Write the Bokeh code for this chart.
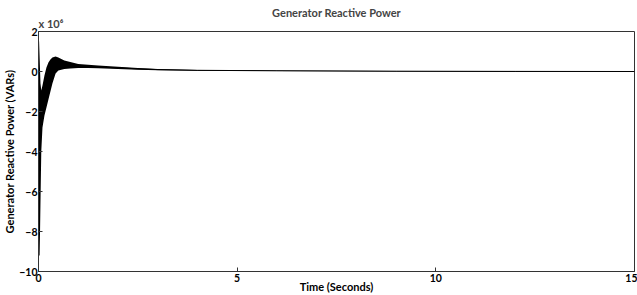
from bokeh.plotting import figure
from bokeh.models import Range1d, FixedTicker, Title
from bokeh.embed import file_html
from bokeh.resources import INLINE

# Envelope of the oscillating reactive power trace (x 10^6 VARs)
time_s = [0.0, 0.015, 0.03, 0.05, 0.07, 0.1, 0.15, 0.2, 0.25, 0.3, 0.35, 0.43, 0.5,
          0.65, 0.8, 1.0, 1.25, 1.5, 2.0, 2.5, 3.0, 4.0, 6.0, 9.0, 12.0, 15.0]
upper = [1.6, 1.5, 0.6, -0.6, -0.95, -0.7, -0.2, 0.2, 0.45, 0.6, 0.7, 0.75, 0.7,
         0.55, 0.47, 0.38, 0.34, 0.3, 0.24, 0.18, 0.13, 0.08, 0.05, 0.03, 0.02, 0.01]
lower = [-0.5, -9.2, -9.2, -6.5, -4.0, -2.8, -2.2, -1.8, -1.4, -1.0, -0.6, -0.1, 0.05,
         0.12, 0.15, 0.17, 0.17, 0.16, 0.12, 0.09, 0.06, 0.04, 0.02, 0.0, -0.01, -0.01]
x_ticks = [0, 5, 10, 15]
y_ticks = [2, 0, -2, -4, -6, -8, -10]

FONT = "Lato"

p = figure(width=637, height=295, output_backend="svg", toolbar_location=None,
           x_range=Range1d(0, 15), y_range=Range1d(-10, 2),
           min_border_left=30, min_border_right=3, min_border_top=31, min_border_bottom=0)

p.title.text = "Generator Reactive Power"
p.title.align = "center"
p.title.text_font = FONT
p.title.text_font_size = "11px"
p.title.text_font_style = "bold"
p.title.offset = 0
p.title.standoff = -10

# scale factor, nearest the frame
scale_title = Title(text="x 10\u2076", align="left", text_font=FONT,
                    text_font_size="11px", text_font_style="bold", standoff=3)
p.add_layout(scale_title, "above")

p.varea(x=time_s, y1=lower, y2=upper, fill_color="black", fill_alpha=1.0)
mid = [(a + b) / 2 for a, b in zip(upper, lower)]
p.line(x=time_s[10:], y=mid[10:], line_color="black", line_width=1)

p.xgrid.visible = False
p.ygrid.visible = False
p.outline_line_color = "#333333"
p.outline_line_width = 1
p.background_fill_color = "white"

for ax in (p.xaxis[0], p.yaxis[0]):
    ax.major_tick_in = 4
    ax.major_tick_out = 0
    ax.minor_tick_line_color = None
    ax.axis_line_color = "#333333"
    ax.major_tick_line_color = "#333333"
    ax.major_label_text_font = FONT
    ax.major_label_text_font_style = "bold"
    ax.major_label_text_font_size = "10.5px"
    ax.major_label_text_color = "black"
    ax.axis_label_text_font = FONT
    ax.axis_label_text_font_style = "bold"
    ax.axis_label_text_font_size = "11px"
    ax.axis_label_text_color = "black"

p.xaxis[0].ticker = FixedTicker(ticks=x_ticks)
p.yaxis[0].ticker = FixedTicker(ticks=y_ticks)
p.xaxis[0].axis_label = "Time (Seconds)"
p.yaxis[0].axis_label = "Generator Reactive Power (VARs)"
p.xaxis[0].major_label_standoff = 2
p.xaxis[0].axis_label_standoff = -5
p.yaxis[0].major_label_standoff = 1
p.yaxis[0].axis_label_standoff = 0

open("out.html", "w").write(file_html(p, INLINE))
